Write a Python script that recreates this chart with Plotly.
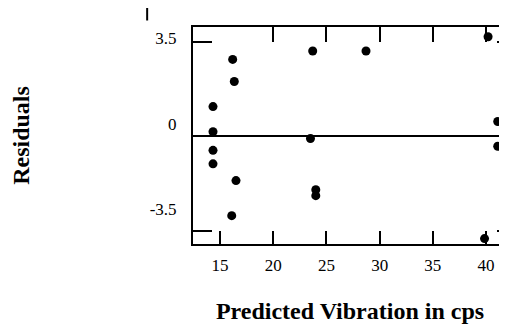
import plotly.graph_objects as go

# Data
predicted = [14.34, 14.34, 14.34, 14.34, 16.19, 16.34, 16.5, 16.1,
             23.71, 23.5, 24.0, 24.0, 28.72, 40.19, 41.1, 41.1, 39.86]
residuals = [1.09, 0.16, -0.53, -1.03, 2.84, 2.02, -1.65, -2.95,
             3.15, -0.09, -1.99, -2.21, 3.15, 3.68, 0.54, -0.38, -3.80]

x_ticks = [15, 20, 25, 30, 35, 40]
x_top_ticks = [20, 25, 30, 35, 40]
y_ticks = [-3.5, 3.5]
y_tick_labels = ["3.5", "0", "-3.5"]
y_label_pos = [3.63, 0.45, -2.72]

x_range = [12.46, 41.97]
y_range = [-4.0, 4.04]

FONT = "Liberation Serif, Times New Roman, serif"

fig = go.Figure()
fig.add_trace(go.Scatter(
    x=predicted, y=residuals, mode="markers",
    marker=dict(color="black", size=9),
    showlegend=False, hoverinfo="skip",
))

fig.update_layout(
    width=499, height=319,
    margin=dict(l=185, r=0, t=19, b=83),
    paper_bgcolor="white", plot_bgcolor="white",
    font=dict(family=FONT, color="black", size=17),
    xaxis=dict(
        range=x_range, tickvals=x_ticks, ticks="inside", ticklen=13,
        tickwidth=2, tickcolor="black", showline=True, linewidth=2,
        linecolor="black", mirror=False, showgrid=False, zeroline=False,
        tickfont=dict(size=17, family=FONT), ticklabelstandoff=5,
        title=dict(text="<b>Predicted Vibration in cps</b>",
                   font=dict(size=24, family=FONT), standoff=28),
    ),
    xaxis2=dict(
        range=x_range, overlaying="x", side="top", anchor="y",
        tickvals=x_top_ticks, ticks="inside", ticklen=15, tickwidth=2,
        tickcolor="black", showticklabels=False, showline=True,
        linewidth=2, linecolor="black", showgrid=False, zeroline=False,
    ),
    yaxis=dict(
        range=y_range, tickvals=y_label_pos, ticktext=y_tick_labels,
        ticks="outside", ticklen=11, tickcolor="rgba(0,0,0,0)",
        showline=True, linewidth=2, linecolor="black", showgrid=False,
        zeroline=True, zerolinecolor="black", zerolinewidth=2,
        tickfont=dict(size=17, family=FONT),
        title=dict(text="<b>Residuals</b>", font=dict(size=24, family=FONT),
                   standoff=126),
    ),
    yaxis2=dict(
        range=y_range, overlaying="y", side="left", anchor="x",
        tickvals=y_ticks, ticks="inside", ticklen=19, tickwidth=2,
        tickcolor="black", showticklabels=False, showline=False,
        showgrid=False, zeroline=False,
    ),
    yaxis3=dict(
        range=y_range, overlaying="y", side="right", anchor="x",
        tickvals=y_ticks, ticks="inside", ticklen=10, tickwidth=2,
        tickcolor="black", showticklabels=False, showline=False,
        showgrid=False, zeroline=False,
    ),
)

# helper traces so the overlay axes are drawn
fig.add_trace(go.Scatter(x=[None], y=[None], xaxis="x2", yaxis="y2",
                         showlegend=False, hoverinfo="skip"))
fig.add_trace(go.Scatter(x=[None], y=[None], xaxis="x", yaxis="y3",
                         showlegend=False, hoverinfo="skip"))

# stray mark above the 3.5 label in the original
fig.add_shape(type="line", xref="paper", yref="paper",
              x0=-0.146, x1=-0.146, y0=1.03, y1=1.088,
              line=dict(color="black", width=2))

fig.write_html("out.html")
